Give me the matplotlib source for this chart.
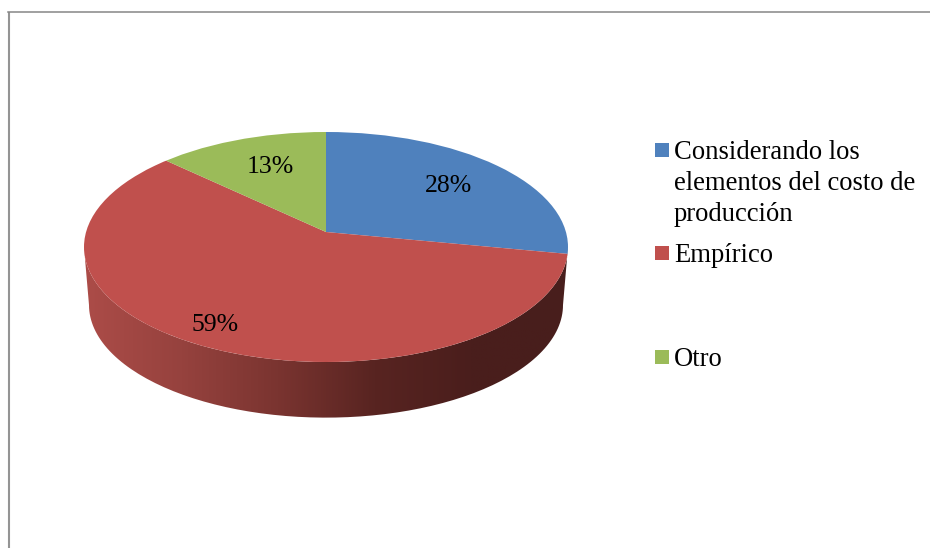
import numpy as np
from matplotlib import pyplot as plt
from matplotlib.lines import Line2D
from matplotlib.patches import Ellipse, PathPatch, Rectangle
from matplotlib.path import Path

categories = ["Considerando los\nelementos del costo de\nproducción", "Empírico", "Otro"]
values = [28, 59, 13]
colors = ["#4f81bd", "#c0504d", "#9bbb59"]

W, H = 930, 548
SQUASH = 115 / 242  # tilt of the pie disc


def py(y):
    # picture row -> data y, pie is drawn in a stretched space so wedges stay true
    return (H - y) / SQUASH


plt.rcParams["font.family"] = ["Liberation Serif", "DejaVu Serif"]

fig = plt.figure(figsize=(W / 100, H / 100), dpi=100, facecolor="white")
ax = fig.add_axes([0, 0, 1, 1])

# side wall, bottom ellipse is a bit narrower because of the perspective
t = np.linspace(np.pi, 2 * np.pi, 120)
top = np.column_stack([326 + 242 * np.cos(t), py(247) + 242 * np.sin(t)])
bottom = np.column_stack([326 + 237 * np.cos(t), py(305) + 237 * np.sin(t)])
wall = Path(np.vstack([top, bottom[::-1], top[:1]]))

shade = np.array([[172, 76, 72], [150, 66, 62], [122, 52, 48], [88, 36, 33], [74, 30, 28], [72, 30, 28]]) / 255
xs = np.linspace(0, 1, 256)
strip = np.column_stack([np.interp(xs, np.linspace(0, 1, 6), shade[:, i]) for i in range(3)])[None, :, :]
im = ax.imshow(strip, extent=(84, 568, py(420), py(240)), aspect="auto", zorder=1)
im.set_clip_path(PathPatch(wall, transform=ax.transData))

# the apex sits above the disc centre, so clip a big pie with the disc
wedges, _ = ax.pie(
    values,
    colors=colors,
    startangle=90,
    counterclock=False,
    radius=450,
    center=(326, py(232)),
    wedgeprops={"linewidth": 0},
)
disc = Ellipse((326, py(247)), 484, 484, transform=ax.transData, facecolor="none", edgecolor="none")
ax.add_patch(disc)
for w in wedges:
    w.set_zorder(2)
    w.set_clip_on(True)  # pie turns clipping off
    w.set_clip_path(disc)

ax.set_aspect("auto")
ax.set_xlim(0, W)
ax.set_ylim(py(H), py(0))
ax.axis("off")

label_pos = [(448, 186), (215, 325), (270, 167)]
for v, (x, y) in zip(values, label_pos):
    ax.text(x, py(y), f"{v}%", fontsize=18.5, ha="center", va="center", color="black", zorder=3)

# legend, entries are not evenly spaced so placed by hand
legend_rows = [150, 253, 357]
for name, color, y in zip(categories, colors, legend_rows):
    ax.add_patch(Rectangle((655, py(y + 7)), 14, 14 / SQUASH, facecolor=color, edgecolor="none", zorder=3))
    ax.text(674, py(y - 10), name, fontsize=19.2, ha="left", va="top", linespacing=1.32, color="black", zorder=3)

# chart frame, runs off the picture right and bottom
fig.add_artist(Line2D([8.5 / W, 8.5 / W], [0, 1 - 12 / H], color="#949494", lw=1.5, solid_capstyle="butt"))
fig.add_artist(Line2D([8 / W, 1], [1 - 11.5 / H, 1 - 11.5 / H], color="#868686", lw=1.1))

fig.savefig("out.png", dpi=100, facecolor="white")
